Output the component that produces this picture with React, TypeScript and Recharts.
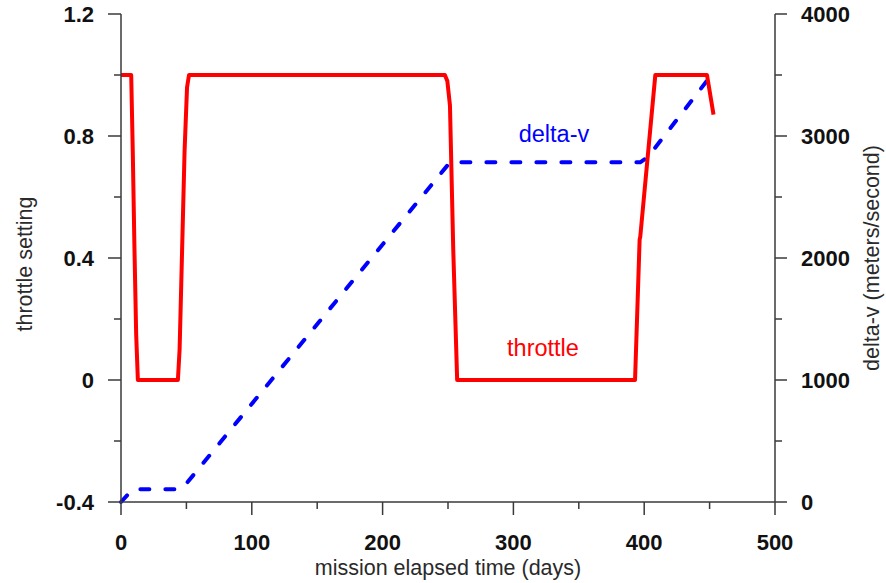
import { ComposedChart, Line, XAxis, YAxis, Label, ReferenceDot } from 'recharts';

// throttle setting over the mission (days, fraction)
const throttleDays = [0, 7.8, 9, 10.3, 11.6, 12.9, 43.5, 44.8, 46.1, 48.6, 50.5, 52, 247.6, 249.5, 251.5, 254, 257, 393, 396.5, 397, 408.5, 448, 453];
const throttleValues = [1, 1, 0.75, 0.43, 0.15, 0, 0, 0.1, 0.32, 0.75, 0.96, 1, 1, 0.98, 0.9, 0.43, 0, 0, 0.46, 0.47, 1, 1, 0.87];

// accumulated delta-v (days, m/s)
const deltaVDays = [0, 9, 44, 48, 251.5, 397, 403, 453];
const deltaVValues = [0, 105, 105, 125, 2784, 2784, 2830, 3522];

const dayTicks = [0, 50, 100, 150, 200, 250, 300, 350, 400, 450, 500];
const dayLabels = [0, 100, 200, 300, 400, 500];
const throttleTicks = [-0.4, -0.2, 0, 0.2, 0.4, 0.6, 0.8, 1, 1.2];
const throttleLabels = [-0.4, 0, 0.4, 0.8, 1.2];
const deltaVTicks = [0, 500, 1000, 1500, 2000, 2500, 3000, 3500, 4000];
const deltaVLabels = [0, 1000, 2000, 3000, 4000];

const throttleData = throttleDays.map((d, i) => ({ d, t: throttleValues[i] }));
const deltaVData = deltaVDays.map((d, i) => ({ d, v: deltaVValues[i] }));

const FONT = '"Liberation Sans", Arial, sans-serif';
const AXIS = '#3a3a3a';
const TICK_FONT = 22;
const TITLE_FONT = 21.5;

function BottomTick({ x, y, payload }: any) {
  const major = dayLabels.includes(payload.value);
  return (
    <g>
      <line x1={x} x2={x} y1={y} y2={y + (major ? 13 : 7)} stroke={AXIS} strokeWidth={1.5} />
      {major && (
        <text x={x} y={y + 48} textAnchor="middle" fontFamily={FONT} fontSize={TICK_FONT} fontWeight="bold" fill="#111">
          {payload.value}
        </text>
      )}
    </g>
  );
}

function LeftTick({ x, y, payload }: any) {
  const major = throttleLabels.includes(payload.value);
  return (
    <g>
      <line x1={x} x2={x - (major ? 13 : 7)} y1={y} y2={y} stroke={AXIS} strokeWidth={1.5} />
      {major && (
        <text x={x - 27} y={y} dominantBaseline="central" textAnchor="end" fontFamily={FONT} fontSize={TICK_FONT} fontWeight="bold" fill="#111">
          {String(payload.value)}
        </text>
      )}
    </g>
  );
}

function RightTick({ x, y, payload }: any) {
  const major = deltaVLabels.includes(payload.value);
  return (
    <g>
      <line x1={x} x2={x + (major ? 12 : 7)} y1={y} y2={y} stroke={AXIS} strokeWidth={1.5} />
      {major && (
        <text x={x + 26} y={y} dominantBaseline="central" textAnchor="start" fontFamily={FONT} fontSize={TICK_FONT} fontWeight="bold" fill="#111">
          {payload.value}
        </text>
      )}
    </g>
  );
}

const bottomTitle = ({ viewBox }: any) => (
  <text x={viewBox.x + viewBox.width / 2} y={viewBox.y + 73} textAnchor="middle" fontFamily={FONT} fontSize={TITLE_FONT} fill="#2a2a2a">
    mission elapsed time (days)
  </text>
);

const leftTitle = ({ viewBox }: any) => {
  const x = viewBox.x + 32;
  const y = viewBox.y + viewBox.height / 2 + 6;
  return (
    <text x={x} y={y} transform={`rotate(-90 ${x} ${y})`} textAnchor="middle" fontFamily={FONT} fontSize={TITLE_FONT} fill="#2a2a2a">
      throttle setting
    </text>
  );
};

const rightTitle = ({ viewBox }: any) => {
  const x = viewBox.x + 104;
  const y = viewBox.y + viewBox.height / 2;
  return (
    <text x={x} y={y} transform={`rotate(-90 ${x} ${y})`} textAnchor="middle" fontFamily={FONT} fontSize={TITLE_FONT} fill="#2a2a2a">
      delta-v (meters/second)
    </text>
  );
};

const seriesLabel = (text: string, color: string) => (p: any) => (
  <text x={p.cx} y={p.cy} textAnchor="middle" fontFamily={FONT} fontSize={23.5} fill={color}>
    {text}
  </text>
);

export default function App() {
  return (
    <div style={{ width: 886, height: 583, background: '#fff' }}>
      <style>{`body { margin: 0; }`}</style>
      <ComposedChart width={886} height={583} margin={{ top: 14, right: 0, bottom: 0, left: 0 }}>
        <XAxis
          dataKey="d"
          type="number"
          domain={[0, 500]}
          ticks={dayTicks}
          interval={0}
          height={81}
          tickSize={0}
          tickMargin={0}
          tickLine={false}
          tick={<BottomTick />}
          axisLine={{ stroke: AXIS, strokeWidth: 1.5 }}
        >
          <Label content={bottomTitle} />
        </XAxis>
        <YAxis
          yAxisId="left"
          orientation="left"
          type="number"
          domain={[-0.4, 1.2]}
          ticks={throttleTicks}
          interval={0}
          width={121}
          tickSize={0}
          tickMargin={0}
          tickLine={false}
          tick={<LeftTick />}
          axisLine={{ stroke: AXIS, strokeWidth: 1.5 }}
        >
          <Label content={leftTitle} />
        </YAxis>
        <YAxis
          yAxisId="right"
          orientation="right"
          type="number"
          domain={[0, 4000]}
          ticks={deltaVTicks}
          interval={0}
          width={111}
          tickSize={0}
          tickMargin={0}
          tickLine={false}
          tick={<RightTick />}
          axisLine={{ stroke: AXIS, strokeWidth: 1.5 }}
        >
          <Label content={rightTitle} />
        </YAxis>
        <Line
          yAxisId="right"
          data={deltaVData}
          dataKey="v"
          type="linear"
          stroke="#0000ff"
          strokeWidth={4}
          strokeDasharray="9 16"
          strokeLinecap="round"
          dot={false}
          activeDot={false}
          isAnimationActive={false}
        />
        <Line
          yAxisId="left"
          data={throttleData}
          dataKey="t"
          type="linear"
          stroke="#ff0000"
          strokeWidth={4}
          strokeLinejoin="round"
          dot={false}
          activeDot={false}
          isAnimationActive={false}
        />
        <ReferenceDot yAxisId="left" x={331} y={0.78} r={0} shape={seriesLabel('delta-v', '#0000ff')} />
        <ReferenceDot yAxisId="left" x={322.6} y={0.079} r={0} shape={seriesLabel('throttle', '#ff0000')} />
      </ComposedChart>
    </div>
  );
}
